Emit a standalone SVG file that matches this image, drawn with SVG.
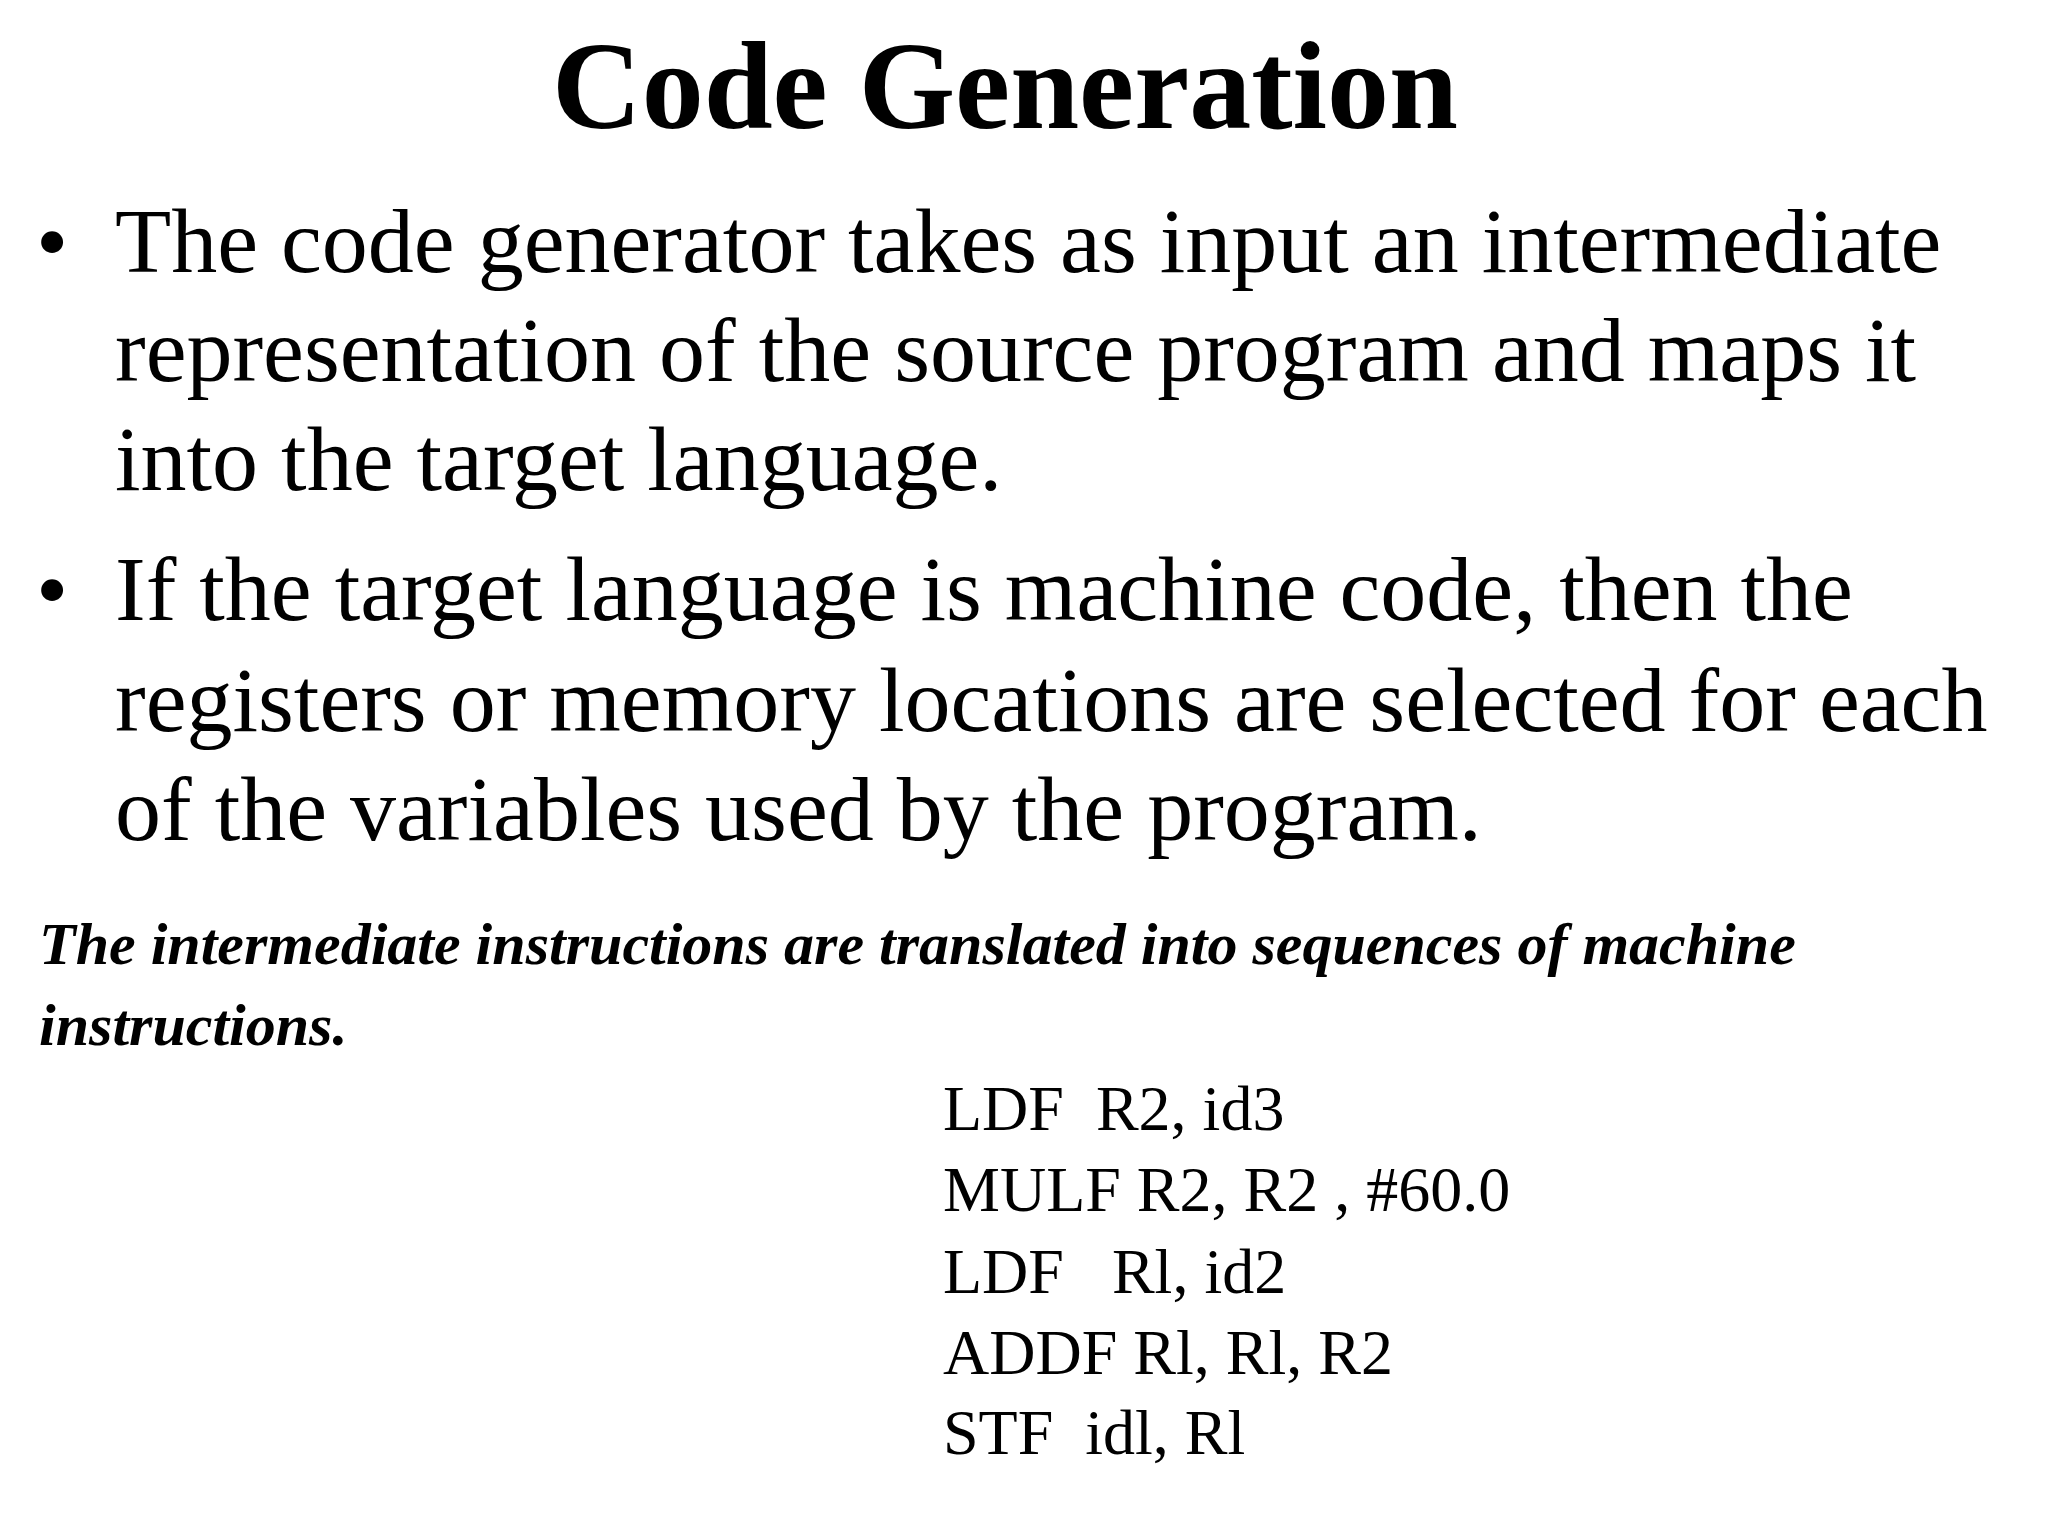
<svg xmlns="http://www.w3.org/2000/svg" width="2048" height="1536" viewBox="0 0 2048 1536">
<style>
text{font-family:"Liberation Serif","Times New Roman",serif;fill:#000}
.b{font-size:92px}
.i{font-size:60px;font-weight:bold;font-style:italic}
.c{font-size:64px}
</style>
<rect width="2048" height="1536" fill="#fff"/>
<g id="title"><text x="1005" y="128" text-anchor="middle" font-size="124" font-weight="bold">Code Generation</text></g>
<g id="bullets">
<text class="b" x="36" y="272">•</text>
<text class="b" x="115" y="272">The code generator takes as input an intermediate</text>
<text class="b" x="115" y="381">representation of the source program and maps it</text>
<text class="b" x="115" y="490">into the target language.</text>
<text class="b" x="36" y="620">•</text>
<text class="b" x="115" y="620">If the target language is machine code, then the</text>
<text class="b" x="115" y="731">registers or memory locations are selected for each</text>
<text class="b" x="115" y="840">of the variables used by the program.</text>
</g>
<g id="note">
<text class="i" x="39" y="964">The intermediate instructions are translated into sequences of machine</text>
<text class="i" x="39" y="1045">instructions.</text>
</g>
<g id="code">
<text class="c" x="943" y="1130" xml:space="preserve">LDF  R2, id3</text>
<text class="c" x="943" y="1211" xml:space="preserve">MULF R2, R2 , #60.0</text>
<text class="c" x="943" y="1293" xml:space="preserve">LDF   Rl, id2</text>
<text class="c" x="943" y="1374" xml:space="preserve">ADDF Rl, Rl, R2</text>
<text class="c" x="943" y="1454" xml:space="preserve">STF  idl, Rl</text>
</g>
</svg>
